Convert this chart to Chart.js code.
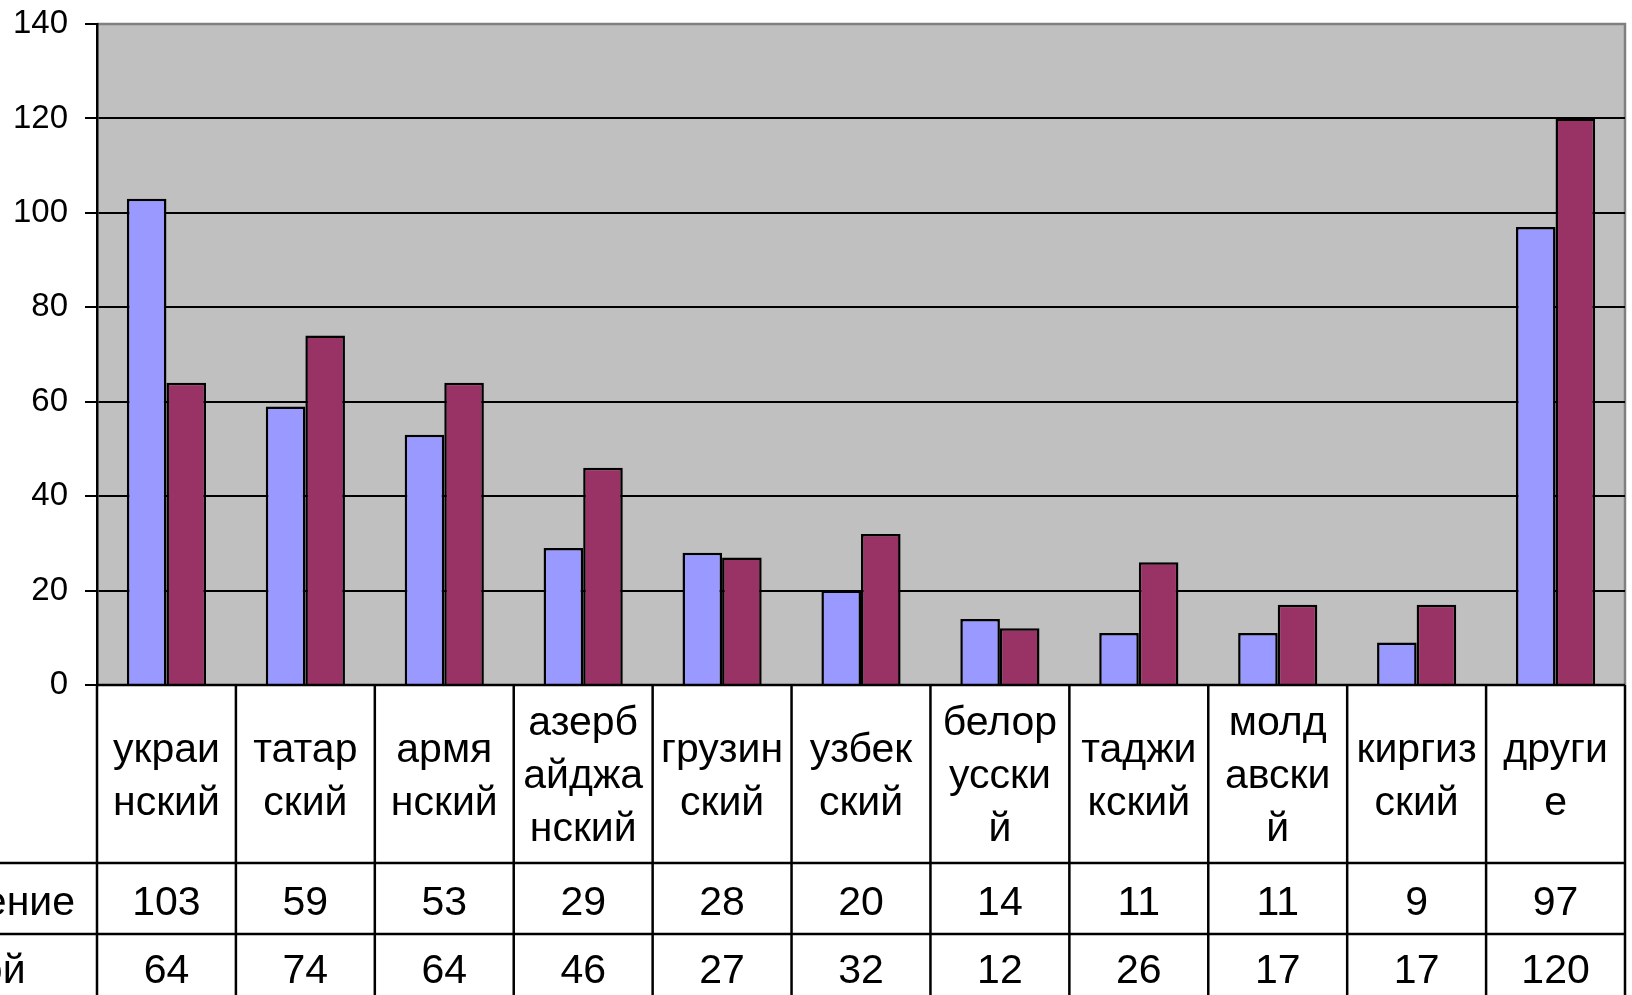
<!DOCTYPE html>
<html>
<head>
  <title>Языки</title>
  <script src="https://cdn.jsdelivr.net/npm/chart.js"></script>
  <style>
    html, body { margin: 0; padding: 0; background: #fff; overflow: hidden; }
    #langChart { display: block; }
  </style>
</head>
<body>
  <canvas id="langChart" width="1632" height="995"></canvas>

  <script>
    // categories, wrapped the same way as in the data table
    const categories = [
      ['украи', 'нский'], ['татар', 'ский'], ['армя', 'нский'], ['азерб', 'айджа', 'нский'],
      ['грузин', 'ский'], ['узбек', 'ский'], ['белор', 'усски', 'й'], ['таджи', 'кский'],
      ['молд', 'авски', 'й'], ['киргиз', 'ский'], ['други', 'е']
    ];
    const seriesNames = ['Владение', 'Родной'];
    const series1 = [103, 59, 53, 29, 28, 20, 14, 11, 11, 9, 97];
    const series2 = [64, 74, 64, 46, 27, 32, 12, 26, 17, 17, 120];
    const yTicks = [0, 20, 40, 60, 80, 100, 120, 140];

    const FONT = '"Liberation Sans", Arial, sans-serif';

    // gray plot area with gray top/right frame
    const plotBg = {
      id: 'plotBg',
      beforeDraw(chart) {
        const { ctx, chartArea: a } = chart;
        ctx.save();
        ctx.fillStyle = '#C0C0C0';
        ctx.fillRect(a.left, a.top, a.right - a.left, a.bottom - a.top);
        ctx.strokeStyle = '#808080';
        ctx.lineWidth = 2.5;
        ctx.beginPath();
        ctx.moveTo(a.left, a.top);
        ctx.lineTo(a.right, a.top);
        ctx.lineTo(a.right, a.bottom);
        ctx.stroke();
        ctx.restore();
      }
    };

    // data table under the plot
    const dataTable = {
      id: 'dataTable',
      afterDraw(chart) {
        const { ctx, chartArea: a } = chart;
        const x = chart.scales.x;
        const n = categories.length;
        const step = (a.right - a.left) / n;
        const rows = [a.bottom, a.bottom + 178, a.bottom + 249, a.bottom + 320];
        ctx.save();
        ctx.strokeStyle = '#000';
        ctx.lineWidth = 2.5;
        ctx.beginPath();
        // horizontal lines
        ctx.moveTo(a.left, rows[0]); ctx.lineTo(a.right, rows[0]);
        ctx.moveTo(0, rows[1]); ctx.lineTo(a.right, rows[1]);
        ctx.moveTo(0, rows[2]); ctx.lineTo(a.right, rows[2]);
        // vertical lines
        for (let i = 0; i <= n; i++) {
          const px = a.left + i * step;
          ctx.moveTo(px, rows[0]); ctx.lineTo(px, rows[3]);
        }
        ctx.stroke();

        ctx.fillStyle = '#000';
        ctx.font = '41px ' + FONT;
        ctx.textAlign = 'center';
        ctx.textBaseline = 'middle';
        const lh = 53;
        const midLabel = (rows[0] + rows[1]) / 2 + 3;
        const y1 = (rows[1] + rows[2]) / 2 + 5;
        const y2 = rows[2] + 38;
        categories.forEach((lines, i) => {
          const cx = x.getPixelForValue(i);
          const y0 = midLabel - (lines.length - 1) * lh / 2;
          lines.forEach((t, j) => ctx.fillText(t, cx, y0 + j * lh));
          ctx.fillText(String(series1[i]), cx, y1);
          ctx.fillText(String(series2[i]), cx, y2);
        });
        // row headers, left-aligned, cut by the canvas edge
        ctx.textAlign = 'left';
        const startX = 75 - ctx.measureText(seriesNames[0]).width;
        ctx.fillText(seriesNames[0], startX, y1);
        ctx.fillText(seriesNames[1], startX, y2);
        ctx.restore();
      }
    };

    const ctx = document.getElementById('langChart').getContext('2d');
    new Chart(ctx, {
      type: 'bar',
      data: {
        labels: categories.map(l => l.join('')),
        datasets: [
          {
            label: seriesNames[0],
            data: series1,
            backgroundColor: '#9999FF',
            borderColor: '#000',
            borderWidth: 2.5
          },
          {
            label: seriesNames[1],
            data: series2,
            backgroundColor: '#993366',
            borderColor: '#000',
            borderWidth: 2.5
          }
        ]
      },
      options: {
        responsive: false,
        animation: false,
        devicePixelRatio: 1,
        layout: { padding: { top: 24, right: 7, bottom: 310, left: 0 } },
        plugins: { legend: { display: false }, tooltip: { enabled: false } },
        datasets: { bar: { categoryPercentage: 0.57, barPercentage: 1 } },
        scales: {
          x: { display: false },
          y: {
            min: 0,
            max: 140,
            afterBuildTicks(scale) { scale.ticks = yTicks.map(v => ({ value: v })); },
            afterFit(scale) {
              scale.width = 97;
              scale.paddingTop = 0;
              scale.paddingBottom = 0;
            },
            border: { color: '#000', width: 2.5 },
            grid: {
              color: c => (c.tick && c.tick.value === 140 ? '#808080' : '#000'),
              tickColor: '#000',
              lineWidth: 2,
              tickLength: 12
            },
            ticks: {
              padding: 17,
              color: '#000',
              font: { family: FONT, size: 33 }
            }
          }
        }
      },
      plugins: [plotBg, dataTable]
    });
  </script>
</body>
</html>
